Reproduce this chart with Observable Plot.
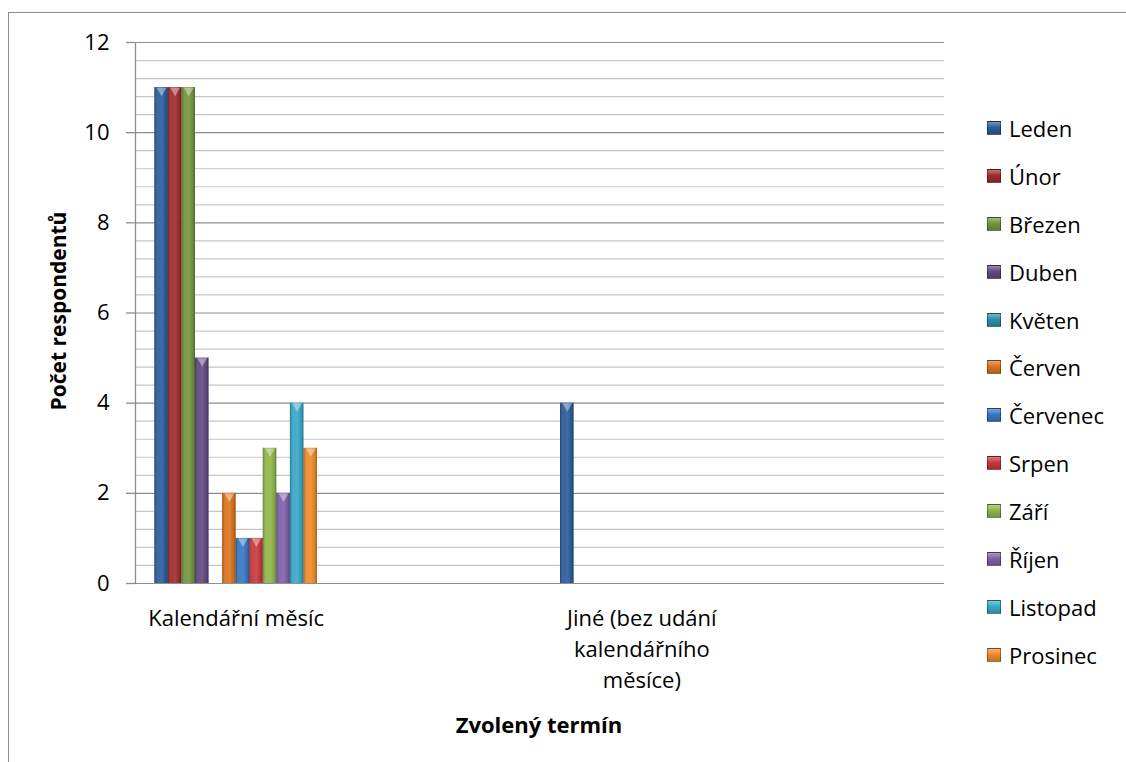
<!DOCTYPE html>
<html>
<head>
<meta charset="utf-8">
<script src="https://cdn.jsdelivr.net/npm/d3@7"></script>
<script src="https://cdn.jsdelivr.net/npm/@observablehq/plot@0.6"></script>
<style>
  body { margin: 0; background: #fff; font-family: "Open Sans", sans-serif; }
  #wrap { position: relative; width: 1126px; height: 762px; overflow: hidden; }
  #frame { position: absolute; left: 8px; top: 12px; width: 1200px; height: 900px; border: 1.3px solid #8c8c8c; box-sizing: border-box; }
  #chart { position: absolute; left: 0; top: 0; }
  .title { position: absolute; font-weight: bold; font-size: 22px; color: #000; white-space: nowrap; line-height: 1; }
  #xtitle { left: 539px; top: 724px; transform: translate(-50%, -50%); }
  #ytitle { left: 58px; top: 311px; transform: translate(-50%, -50%) rotate(-90deg); font-size: 21px; }
  #legend { position: absolute; left: 987px; top: 104px; }
  .item { display: flex; align-items: center; height: 47.9px; font-size: 22px; color: #000; }
  .sw { width: 14px; height: 14px; margin-right: 8px; box-sizing: border-box; border: 1px solid rgba(0,0,0,0.35);
        background-image: linear-gradient(180deg, rgba(255,255,255,0.35), rgba(255,255,255,0) 45%, rgba(0,0,0,0.18)); }
</style>
</head>
<body>
<div id="wrap">
  <div id="frame"></div>
  <div id="chart"></div>
  <div id="xtitle" class="title">Zvolený termín</div>
  <div id="ytitle" class="title">Počet respondentů</div>
  <div id="legend"></div>
</div>
<script>
// ---- data ----
const categories = ["Kalendářní měsíc", "Jiné (bez udání kalendářního měsíce)"];
const categoryLabels = ["Kalendářní měsíc", "Jiné (bez udání\nkalendářního\nměsíce)"];
const months = ["Leden", "Únor", "Březen", "Duben", "Květen", "Červen",
                "Červenec", "Srpen", "Září", "Říjen", "Listopad", "Prosinec"];
const kalendarniMesic = [11, 11, 11, 5, 0, 2, 1, 1, 3, 2, 4, 3];
const jine            = [4, 0, 0, 0, 0, 0, 0, 0, 0, 0, 0, 0];
const yTickValues = [0, 2, 4, 6, 8, 10, 12];
const monthColors = ["#2C5D9B", "#A12B2C", "#74963B", "#5F4A82", "#2E8FAE", "#DA731F",
                     "#3877C5", "#C9383B", "#90B64B", "#7F60A8", "#38A8C8", "#EF8B2B"];

// ---- table ----
const seriesByCategory = [kalendarniMesic, jine];
const rows = [];
categories.forEach((cat, ci) => {
  months.forEach((m, mi) => {
    rows.push({cat, ci, month: m, mi, value: seriesByCategory[ci][mi]});
  });
});
const catRows = categories.map((c, ci) => ({cat: c, ci, label: categoryLabels[ci]}));

// layout in category units (one category step = 1)
const groupWidth = 0.401;
const barW = groupWidth / months.length;
const minorTicks = d3.range(0, 31).map(i => +(i * 0.4).toFixed(2)).filter(v => Math.abs(v / 2 - Math.round(v / 2)) > 1e-6);

const chart = Plot.plot({
  width: 960,
  height: 720,
  marginLeft: 135,
  marginRight: 16,
  marginTop: 42,
  marginBottom: 137,
  style: {background: "transparent", fontFamily: "Open Sans, sans-serif", fontSize: "22px", color: "#000"},
  x: {domain: [-0.0476, 1.9465], axis: null},
  y: {domain: [0, 12], axis: null},
  color: {domain: months, range: monthColors},
  marks: [
    Plot.ruleY(minorTicks, {stroke: "#c6c6c6", strokeWidth: 1.2}),
    Plot.ruleY(yTickValues, {stroke: "#8e8e8e", strokeWidth: 1.2}),
    Plot.ruleX([-0.0476], {y1: 0, y2: 12, stroke: "#8e8e8e", strokeWidth: 1.3}),
    Plot.axisY({ticks: yTickValues, tickSize: 9, tickPadding: 17, fontSize: 22, stroke: "#8e8e8e", strokeWidth: 1.3, fill: "#000", label: null}),
    Plot.rectY(rows, {
      x1: d => d.ci + d.mi * barW,
      x2: d => d.ci + (d.mi + 1) * barW,
      y: "value",
      fill: "month"
    }),
    Plot.rectY(rows.filter(d => d.value > 0), {
      x1: d => d.ci + d.mi * barW,
      x2: d => d.ci + (d.mi + 1) * barW,
      y: "value",
      fill: "url(#barShade)"
    }),
    Plot.dot(rows.filter(d => d.value > 0), {
      x: d => d.ci + (d.mi + 0.5) * barW,
      y: "value",
      symbol: "triangle",
      r: 3.6,
      rotate: 180,
      dy: 3,
      fill: "white",
      fillOpacity: 0.4
    }),
    Plot.text(catRows, {
      x: d => d.ci + groupWidth / 2,
      y: () => 0,
      text: "label",
      lineAnchor: "top",
      lineHeight: 1.41,
      dy: 20,
      fontSize: 22,
      fill: "#000"
    })
  ]
});

// shading gradient for the bevelled bars
const defs = d3.select(chart).insert("defs", ":first-child");
const g = defs.append("linearGradient").attr("id", "barShade").attr("x1", 0).attr("x2", 1).attr("y1", 0).attr("y2", 0);
[[0, "#000", 0.28], [0.3, "#fff", 0.06], [0.55, "#fff", 0.1], [0.85, "#000", 0.08], [1, "#000", 0.32]]
  .forEach(([o, c, a]) => g.append("stop").attr("offset", o).attr("stop-color", c).attr("stop-opacity", a));

document.getElementById("chart").appendChild(chart);

// legend from the chart's color scale
const cs = chart.scale("color");
const legend = document.getElementById("legend");
cs.domain.forEach((m, i) => {
  const item = document.createElement("div");
  item.className = "item";
  const sw = document.createElement("span");
  sw.className = "sw";
  sw.style.backgroundColor = cs.range[i];
  const lab = document.createElement("span");
  lab.textContent = m;
  item.appendChild(sw);
  item.appendChild(lab);
  legend.appendChild(item);
});
</script>
</body>
</html>
